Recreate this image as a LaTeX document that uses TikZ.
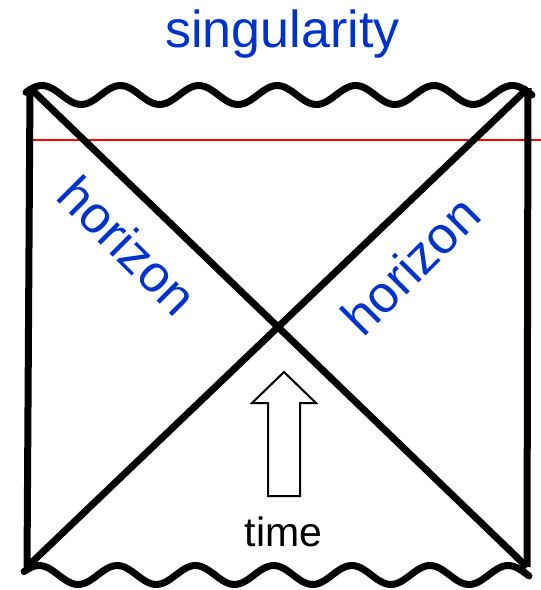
\documentclass[tikz,border=0pt]{standalone}
\usepackage{fontspec}
\setmainfont{Liberation Sans}
\definecolor{labelblue}{RGB}{0,51,204}
\begin{document}
\begin{tikzpicture}[x=1pt, y=-1pt,
  edge/.style={line width=7pt, line join=round},
  wave/.style={line width=7pt, line cap=round, smooth, samples=160},
  lbl/.style={text=labelblue, font=\fontsize{52}{60}\selectfont, inner sep=0pt, anchor=base},
  timelbl/.style={font=\fontsize{41}{48}\selectfont, inner sep=0pt, anchor=base}
]
  \useasboundingbox (0,0) rectangle (541,590);
  % corners of the diagram
  \coordinate (tl) at (30,88);
  \coordinate (tr) at (528,88);
  \coordinate (bl) at (27,567);
  \coordinate (br) at (527,567);
  % red line
  \coordinate (rl) at (33,140);
  \coordinate (rr) at (541,140);
  \draw[red, line width=2.5pt] (rl) -- (rr);
  % walls and horizons
  \draw[edge] (tl) -- (bl);
  \draw[edge] (tr) -- (br);
  \draw[edge] (tl) -- (br);
  \draw[edge] (bl) -- (tr);
  % singularities
  \draw[wave] plot[domain=26:532] (\x, {95-9.5*cos((\x-42)*4.5918)});
  \draw[wave] plot[domain=24:529] (\x, {575-9.5*cos((\x-39)*4.6036)});
  % labels
  \node[lbl] (sing) at (282.5,47) {singularity};
  \node[lbl, rotate=-45] (hleft) at (115,258.5) {horizon};
  \node[lbl, rotate=45] (hright) at (423.5,278.5) {horizon};
  % time arrow
  \draw[line width=2pt, line join=miter] (268,496) -- (268,403) -- (252,403) -- (284,372)
    -- (316,403) -- (300,403) -- (300,496) -- cycle;
  \node[timelbl] (time) at (283.5,546) {time};
\end{tikzpicture}
\end{document}
